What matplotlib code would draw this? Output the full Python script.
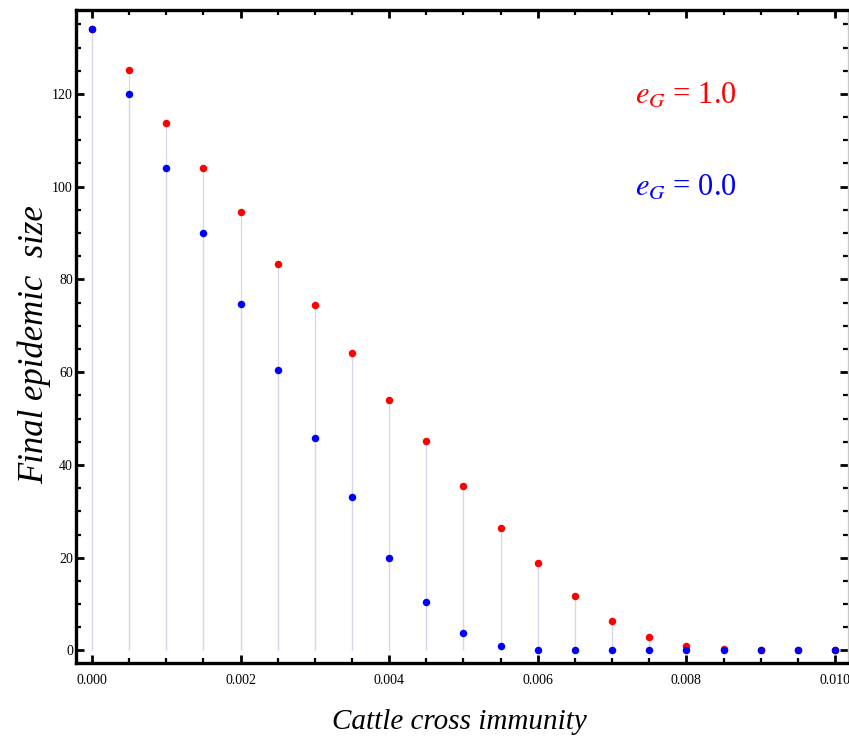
import matplotlib
matplotlib.use("Agg")
import matplotlib.pyplot as plt
from matplotlib.ticker import MultipleLocator, FormatStrFormatter

# ---- data ----
immunity = [0.0, 0.0005, 0.001, 0.0015, 0.002, 0.0025, 0.003, 0.0035, 0.004, 0.0045,
            0.005, 0.0055, 0.006, 0.0065, 0.007, 0.0075, 0.008, 0.0085, 0.009, 0.0095, 0.010]
size_eG1 = [134.0, 125.2, 113.7, 104.1, 94.6, 83.4, 74.5, 64.2, 53.9, 45.2,
            35.5, 26.3, 18.8, 11.7, 6.4, 3.0, 1.0, 0.4, 0.1, 0.05, 0.02]
size_eG0 = [134.0, 120.0, 104.0, 90.0, 74.7, 60.5, 45.9, 33.0, 19.9, 10.4,
            3.7, 0.9, 0.1, 0.05, 0.02, 0.01, 0.0, 0.0, 0.0, 0.0, 0.0]
label_eG1 = r"$e_G$ = 1.0"
label_eG0 = r"$e_G$ = 0.0"
xlabel = "Cattle cross immunity"
ylabel = "Final epidemic  size"

plt.rcParams["font.family"] = ["Liberation Serif", "DejaVu Serif"]
plt.rcParams["mathtext.fontset"] = "stix"

fig = plt.figure(figsize=(8.49, 7.40), dpi=100)
ax = fig.add_axes([0.0892, 0.1041, 0.9102, 0.8824])

stem_color = "#d6d6ec"
ax.vlines(immunity, 0, size_eG1, color=stem_color, lw=0.9, zorder=1)
ax.vlines(immunity, 0, size_eG0, color=stem_color, lw=0.9, zorder=1)
ax.plot(immunity, size_eG1, "o", color="#ff0000", ms=5.4, mec="none", zorder=3)
ax.plot(immunity, size_eG0, "o", color="#0000ff", ms=5.4, mec="none", zorder=4)

ax.set_xlim(-0.000219, 0.010182)
ax.set_ylim(-2.7, 138.1)

ax.xaxis.set_major_locator(MultipleLocator(0.002))
ax.xaxis.set_minor_locator(MultipleLocator(0.0005))
ax.yaxis.set_major_locator(MultipleLocator(20))
ax.yaxis.set_minor_locator(MultipleLocator(5))
ax.xaxis.set_major_formatter(FormatStrFormatter("%.3f"))
ax.yaxis.set_major_formatter(FormatStrFormatter("%d"))

for s in ["left", "bottom", "top"]:
    ax.spines[s].set_linewidth(2.4)
    ax.spines[s].set_color("black")
ax.spines["right"].set_linewidth(1.0)
ax.spines["right"].set_color("#c8c8c8")

ax.tick_params(which="both", direction="in", top=True, right=True, color="black")
ax.tick_params(which="major", length=6, width=2.0, labelsize=10)
ax.tick_params(which="minor", length=3.5, width=1.6)
ax.tick_params(axis="x", which="major", pad=8)
ax.tick_params(axis="y", which="major", pad=2)

ax.set_xlabel(xlabel, fontsize=21, style="italic", va="center")
ax.xaxis.set_label_coords(0.4966, -0.0904)
ax.set_ylabel(ylabel, fontsize=25, style="italic", va="center")
ax.yaxis.set_label_coords(-0.054, 0.487)

ax.text(0.790, 0.8576, label_eG1, color="#ff0000", fontsize=22,
        ha="center", va="baseline", transform=ax.transAxes)
ax.text(0.790, 0.7167, label_eG0, color="#0000ff", fontsize=22,
        ha="center", va="baseline", transform=ax.transAxes)

fig.savefig("out.png", dpi=100)
